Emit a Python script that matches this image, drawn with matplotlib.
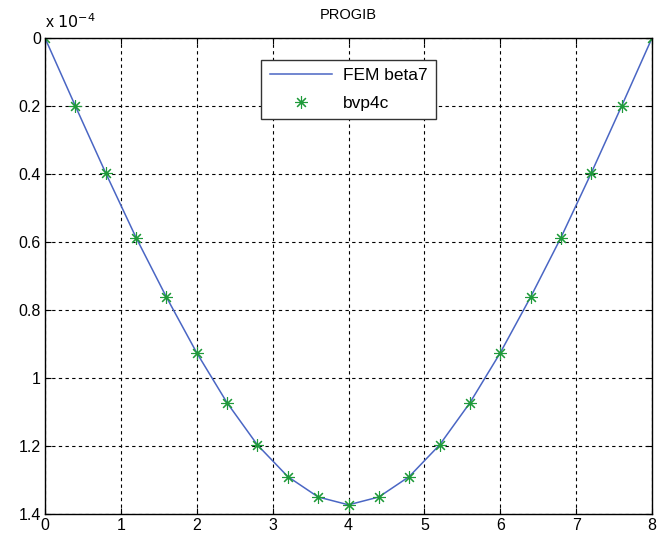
import matplotlib.pyplot as plt
import numpy as np

# beam deflection along the span, in units of 1e-4
x_nodes = [0, 0.4, 0.8, 1.2, 1.6, 2.0, 2.4, 2.8, 3.2, 3.6, 4.0,
           4.4, 4.8, 5.2, 5.6, 6.0, 6.4, 6.8, 7.2, 7.6, 8.0]
w_fem = [0, 0.200, 0.397, 0.587, 0.762, 0.926, 1.073, 1.197, 1.290, 1.350, 1.373,
         1.350, 1.290, 1.197, 1.073, 0.926, 0.762, 0.587, 0.397, 0.200, 0]
w_bvp = [0, 0.200, 0.397, 0.587, 0.762, 0.926, 1.073, 1.197, 1.290, 1.350, 1.373,
         1.350, 1.290, 1.197, 1.073, 0.926, 0.762, 0.587, 0.397, 0.200, 0]

x_ticks = [0, 1, 2, 3, 4, 5, 6, 7, 8]
y_ticks = [0, 0.2, 0.4, 0.6, 0.8, 1.0, 1.2, 1.4]
y_ticklabels = ["0", "0.2", "0.4", "0.6", "0.8", "1", "1.2", "1.4"]

plt.rcParams['font.family'] = ['Liberation Sans', 'DejaVu Sans']

fig = plt.figure(figsize=(6.65, 5.39), dpi=100)
ax = fig.add_axes([45 / 665, 1 - 514 / 539, 607 / 665, 476 / 539])

ax.plot(x_nodes, w_fem, color='#4a66c4', linewidth=1.1, label='FEM beta7')
ax.plot(x_nodes, w_bvp, linestyle='none', marker=(8, 2, 0), markersize=9,
        markeredgewidth=0.8, color='#1f9a3a', label='bvp4c')

ax.set_xlim(0, 8)
ax.set_ylim(1.4, 0)
ax.set_xticks(x_ticks)
ax.set_yticks(y_ticks)
ax.set_yticklabels(y_ticklabels)
ax.tick_params(direction='in', top=True, right=True, labelsize=11.5, length=4,
               pad=3)
ax.grid(True, color='black', linestyle=(0, (3, 3)), linewidth=0.8)
for spine in ax.spines.values():
    spine.set_linewidth(1.0)

ax.set_title('PROGIB', fontsize=10.5, pad=14)
ax.text(0.0, 1.015, 'x $10^{-4}$', transform=ax.transAxes, fontsize=11.5,
        ha='left', va='bottom')

leg = ax.legend(loc='upper center', bbox_to_anchor=(0.5, 0.973), fontsize=12.5,
                fancybox=False, framealpha=1, edgecolor='#333333',
                handlelength=3.6, borderpad=0.5, labelspacing=0.7,
                handletextpad=0.6)
leg.get_frame().set_linewidth(1.0)

fig.savefig('out.png', dpi=100)
